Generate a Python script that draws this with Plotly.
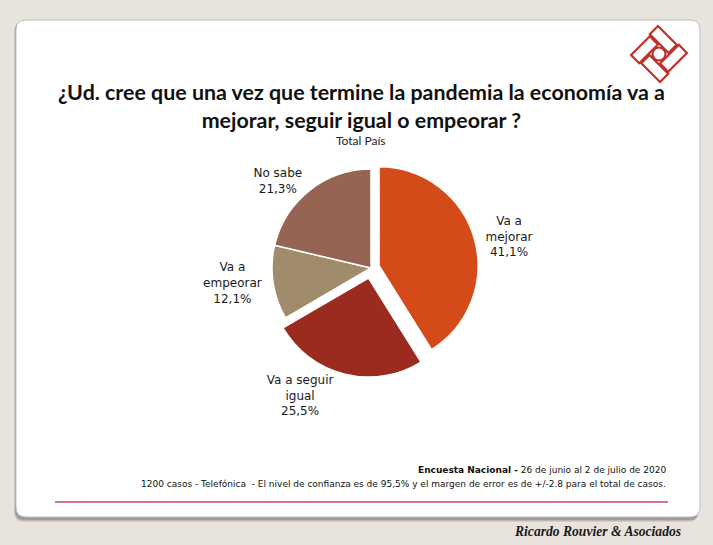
import math
import plotly.graph_objects as go

W, H = 713, 545

# Datos del grafico
labels = ["Va a<br>mejorar", "Va a seguir<br>igual", "Va a<br>empeorar", "No sabe"]
values = [41.1, 25.5, 12.1, 21.3]
colors = ["#D44A19", "#9C2B1F", "#A08B6A", "#956453"]
pulls = [0.085, 0.105, 0, 0]
pct_text = [f"{v:.1f}".replace(".", ",") + "%" for v in values]

title_text = "¿Ud. cree que una vez que termine la pandemia la economía va a<br>mejorar, seguir igual o empeorar ?"
subtitle_text = "Total País"
footer_1 = "<b>Encuesta Nacional -</b> 26 de junio al 2 de julio de 2020"
footer_2 = "1200 casos - Telefónica  - El nivel de confianza es de 95,5% y el margen de error es de +/-2.8 para el total de casos."
brand = "Ricardo Rouvier & Asociados"


# pixel -> paper
def px(x):
    return x / W


def py(y):
    return 1 - y / H


def rrect(x0, y0, x1, y1, r):
    pts = [("M", x0 + r, y0), ("L", x1 - r, y0), ("Q", x1, y0, x1, y0 + r),
           ("L", x1, y1 - r), ("Q", x1, y1, x1 - r, y1), ("L", x0 + r, y1),
           ("Q", x0, y1, x0, y1 - r), ("L", x0, y0 + r), ("Q", x0, y0, x0 + r, y0)]
    out = ""
    for p in pts:
        c = p[1:]
        out += p[0] + " " + " ".join(
            f"{px(c[i]):.5f},{py(c[i + 1]):.5f}" for i in range(0, len(c), 2)) + " "
    return out + "Z"


def poly(points):
    return "M " + " L ".join(f"{px(x):.5f},{py(y):.5f}" for x, y in points) + " Z"


shapes = []
# sombra y tarjeta
for off, op in [(4, 0.18), (3, 0.25), (2, 0.35)]:
    shapes.append(dict(type="path", path=rrect(16 - off / 2, 20 + off / 2, 700 - off / 2, 518 + off, 10),
                       fillcolor="#6E6E6E", opacity=op, line=dict(width=0), layer="below"))
shapes.append(dict(type="path", path=rrect(16, 20, 700, 517, 10), fillcolor="white",
                   line=dict(color="#BDBDBD", width=1), layer="below"))
# linea inferior
shapes.append(dict(type="line", x0=px(55), x1=px(668), y0=py(502), y1=py(502),
                   line=dict(color="#C0486A", width=1.5), layer="below"))

# logo
cx, cy = 659, 54
s, t, e = 19, 7.5, 1.5
rects = [(-s - e, -s, t - e, -t), (t, -s - e, s, t - e), (-t + e, t, s + e, s), (-s, -t + e, -t, s + e)]
a = math.radians(45)
for u0, v0, u1, v1 in rects:
    corners = [(u0, v0), (u1, v0), (u1, v1), (u0, v1)]
    pts = [(cx + u * math.cos(a) - v * math.sin(a), cy + u * math.sin(a) + v * math.cos(a)) for u, v in corners]
    shapes.append(dict(type="path", path=poly(pts), fillcolor="white",
                       line=dict(color="#C0302A", width=2.2), layer="below"))
shapes.append(dict(type="circle", x0=px(cx - 6.5), x1=px(cx + 6.5), y0=py(cy - 6.5), y1=py(cy + 6.5),
                   fillcolor="white", line=dict(color="#C0302A", width=2.2), layer="below"))

fig = go.Figure(go.Pie(
    labels=labels, values=values, customdata=pct_text,
    sort=False, direction="clockwise", rotation=0, pull=pulls,
    marker=dict(colors=colors, line=dict(color="white", width=1.5)),
    textposition="outside", texttemplate="%{label}<br>%{customdata}",
    textfont=dict(family="DejaVu Sans", size=12, color="#1A1A1A"),
    hoverinfo="label+percent", showlegend=False,
    domain=dict(x=[px(261.6), px(480.4)], y=[py(377.4), py(158.6)]),
))

annotations = [
    dict(text="<b>" + title_text + "</b>", x=px(361), y=py(106), font=dict(family="Lato", size=21.4, color="#111111")),
    dict(text=subtitle_text, x=px(361), y=py(141), font=dict(family="Lato", size=12, color="#222222")),
    dict(text=footer_1, x=px(668), y=py(470), xanchor="right", font=dict(family="DejaVu Sans", size=9, color="#111111")),
    dict(text=footer_2, x=px(668), y=py(484), xanchor="right", font=dict(family="DejaVu Sans", size=9, color="#111111")),
    dict(text="<b><i>" + brand + "</i></b>", x=px(683), y=py(531), xanchor="right",
         font=dict(family="Liberation Serif", size=13.6, color="#1A1A1A")),
]
for an in annotations:
    an.update(xref="paper", yref="paper", showarrow=False)
    an.setdefault("xanchor", "center")
    an.setdefault("yanchor", "middle")

fig.update_layout(width=W, height=H, margin=dict(l=0, r=0, t=0, b=0),
                  paper_bgcolor="#E8E4DD", plot_bgcolor="#E8E4DD",
                  shapes=shapes, annotations=annotations)

# sin margen del body para que el grafico ocupe toda la ventana
fig.write_html("out.html", config={"displayModeBar": False},
               post_script="document.body.style.margin='0';document.body.style.overflow='hidden';")
